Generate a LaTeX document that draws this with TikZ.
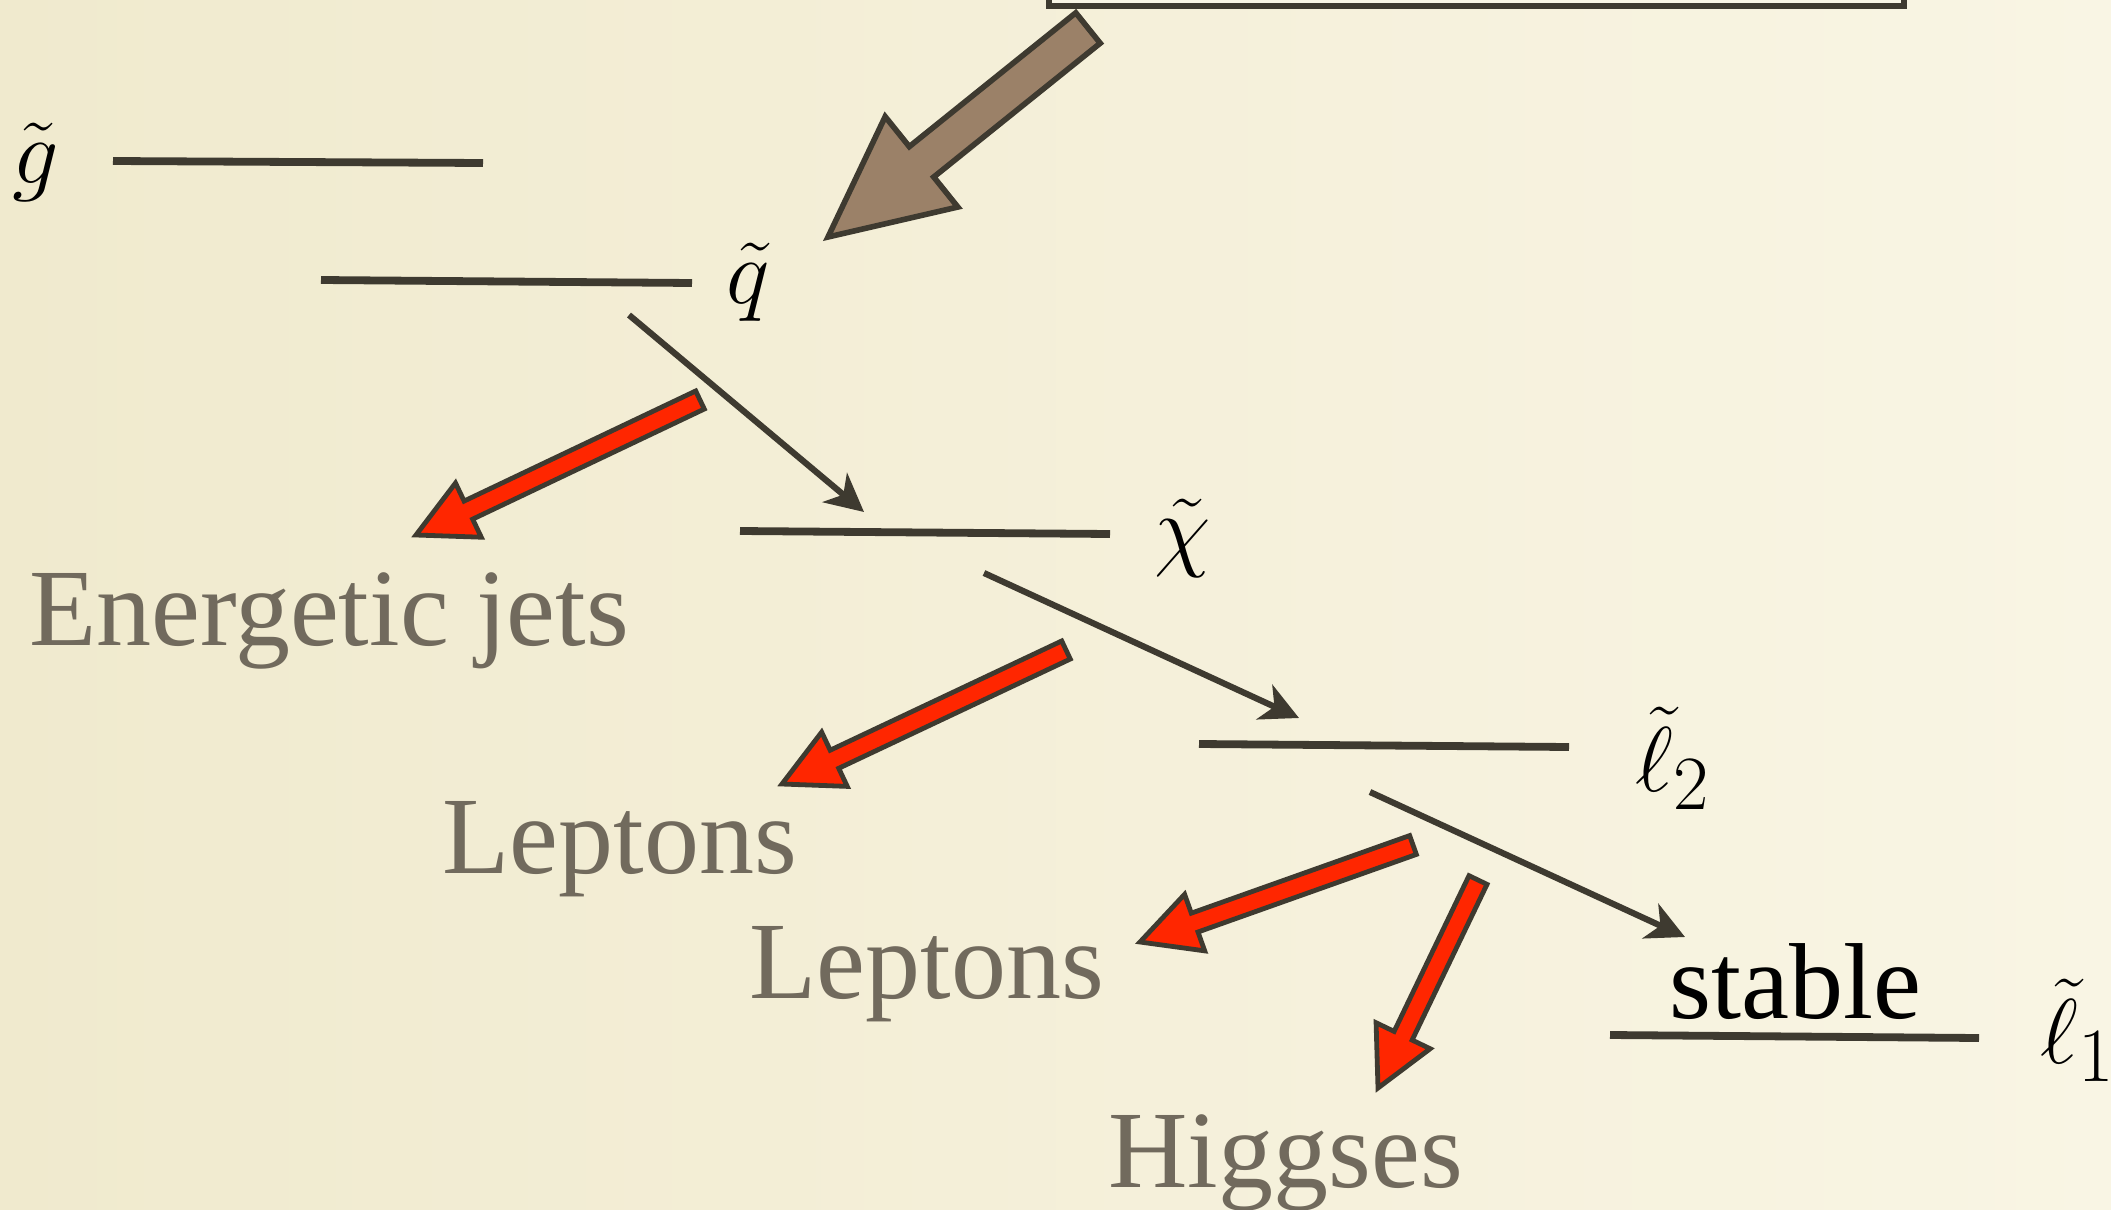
\documentclass[tikz,border=0pt]{standalone}
\usepackage{graphicx}
\usepackage[no-math]{fontspec}
\setmainfont{Liberation Serif}
\usetikzlibrary{arrows.meta,calc}
\definecolor{ink}{RGB}{62,58,48}
\definecolor{labelgray}{RGB}{113,106,93}
\definecolor{brownfill}{RGB}{155,129,104}
\definecolor{redfill}{RGB}{255,38,0}
\definecolor{bgl}{RGB}{240,234,206}
\definecolor{bgr}{RGB}{249,245,228}
\definecolor{boxfill}{RGB}{248,245,229}
% #1 tail, #2 tip, #3 half shaft width, #4 half head width, #5 head length, #6 style
\newcommand{\BlkArrow}[6]{%
  \coordinate (ba-h) at ($(#2)!#5!(#1)$);
  \draw[#6] (#2) -- ($(ba-h)!#4!90:(#2)$) -- ($(ba-h)!#3!90:(#2)$)
    -- ($(#1)!#3!90:(#2)$) -- ($(#1)!#3!-90:(#2)$)
    -- ($(ba-h)!#3!-90:(#2)$) -- ($(ba-h)!#4!-90:(#2)$) -- cycle;
}
\newcommand{\BigMath}[1]{\scalebox{1.85}{\fontsize{24.88}{30}\selectfont$#1$}}
\begin{document}
\begin{tikzpicture}[x=0.5pt,y=-0.5pt,
  levelline/.style={draw=ink, line width=3.9pt},
  decayarrow/.style={draw=ink, line width=3.1pt, -{Stealth[length=19pt,width=19pt,inset=5.5pt]}},
  redarrow/.style={fill=redfill, draw=ink, line width=2.4pt, line join=miter},
  brownarrow/.style={fill=brownfill, draw=ink, line width=2.8pt, line join=miter},
  prod/.style={text=labelgray, font=\fontsize{55}{60}\selectfont, inner sep=0pt, anchor=base west},
  sparticle/.style={inner sep=0pt}
]
\useasboundingbox (0,0) rectangle (2111,1210);
\clip (0,0) rectangle (2111,1210);
\shade[left color=bgl, right color=bgr] (0,0) rectangle (2111,1210);

% top box (cut by the upper edge)
\draw[draw=ink, fill=boxfill, line width=2.8pt] (1049,-40) rectangle (1904,6);

% brown arrow into the squark level
\coordinate (brownTail) at (1088,28);
\coordinate (brownTip) at (828,237);
\BlkArrow{brownTail}{brownTip}{9.75pt}{29pt}{60pt}{brownarrow}

% mass levels
\coordinate (gL) at (113,161); \coordinate (gR) at (483,163);
\coordinate (qL) at (321,280); \coordinate (qR) at (692,283);
\coordinate (cL) at (740,531); \coordinate (cR) at (1110,534);
\coordinate (l2L) at (1199,744); \coordinate (l2R) at (1569,747);
\coordinate (l1L) at (1610,1035); \coordinate (l1R) at (1979,1038);
\draw[levelline] (gL) -- (gR);
\draw[levelline] (qL) -- (qR);
\draw[levelline] (cL) -- (cR);
\draw[levelline] (l2L) -- (l2R);
\draw[levelline] (l1L) -- (l1R);

% level labels
\node[sparticle] (glabel) at (36,162) {\BigMath{\tilde{g}}};
\node[sparticle] (qlabel) at (748,282) {\BigMath{\tilde{q}}};
\node[sparticle] (clabel) at (1183,538) {\BigMath{\tilde{\chi}}};
\node[sparticle] (l2label) at (1673,758) {\BigMath{\tilde{\ell}_2}};
\node[sparticle, anchor=west] (l1label) at (2040,1030) {\BigMath{\tilde{\ell}_1}};

% decay arrows
\coordinate (qdS) at (629,315); \coordinate (qdE) at (864,512);
\coordinate (cdS) at (984,573); \coordinate (cdE) at (1299,718);
\coordinate (ldS) at (1370,792); \coordinate (ldE) at (1685,937);
\draw[decayarrow] (qdS) -- (qdE);
\draw[decayarrow] (cdS) -- (cdE);
\draw[decayarrow] (ldS) -- (ldE);

% red product arrows
\coordinate (r1S) at (700,400); \coordinate (r1E) at (416,535);
\coordinate (r2S) at (1066,650); \coordinate (r2E) at (782,784);
\coordinate (r3S) at (1413,845); \coordinate (r3E) at (1140,942);
\coordinate (r4S) at (1478,880); \coordinate (r4E) at (1378,1088);
\BlkArrow{r1S}{r1E}{5pt}{15pt}{29pt}{redarrow}
\BlkArrow{r2S}{r2E}{5pt}{15pt}{29pt}{redarrow}
\BlkArrow{r3S}{r3E}{5pt}{15pt}{29pt}{redarrow}
\BlkArrow{r4S}{r4E}{5pt}{15pt}{29pt}{redarrow}

% products
\node[prod] (jets) at (29,645) {Energetic jets};
\node[prod] (lep1) at (442,873) {Leptons};
\node[prod] (lep2) at (749,998) {Leptons};
\node[prod] (higgs) at (1108,1187) {Higgses};
\node[prod, text=black, font=\fontsize{54}{60}\selectfont] (stable) at (1669,1018) {stable};
\end{tikzpicture}
\end{document}
